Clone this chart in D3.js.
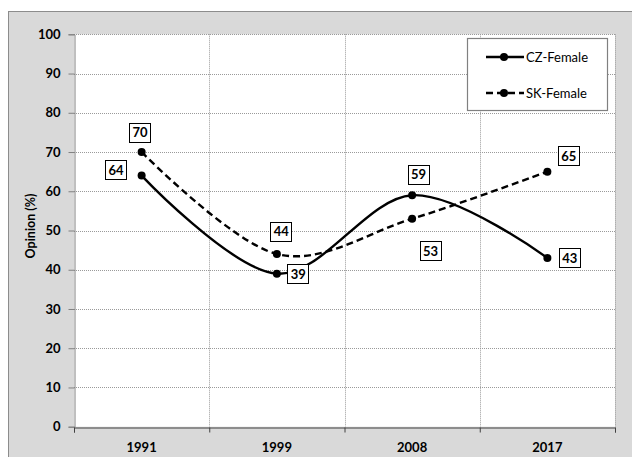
<!DOCTYPE html>
<html>
<head>
<meta charset="utf-8">
<script src="https://cdn.jsdelivr.net/npm/d3@7"></script>
<style>
  body { margin: 0; background: #fff; }
  text { font-family: Lato, "Open Sans", sans-serif; }
</style>
</head>
<body>
<div id="canvas"></div>
<script>
"use strict"

/* Chart data */
let years = ["1991", "1999", "2008", "2017"];
let czFemale = [64, 39, 59, 43];
let skFemale = [70, 44, 53, 65];
let yTicks = [0, 10, 20, 30, 40, 50, 60, 70, 80, 90, 100];
let seriesNames = ["CZ-Female", "SK-Female"];

// where each value box sits relative to its point (dx, dy)
let czLabelShift = [[-26, -6], [21, 0], [6, -21], [22, 0]];
let skLabelShift = [[-2, -20], [4, -23], [18, 32], [21, -16]];

let svgWidth = 632;
let svgHeight = 457;

let svg = d3.select("#canvas")
    .append("svg")
    .attr("width", svgWidth)
    .attr("height", svgHeight);

// outer grey chart area
svg.append("rect")
    .attr("x", 8.5)
    .attr("y", 11.5)
    .attr("width", svgWidth - 8)
    .attr("height", svgHeight - 11)
    .attr("fill", "#d9d9d9")
    .attr("stroke", "#8c8c8c");

let xScale = d3.scaleBand()
    .domain(years)
    .range([74, 615]);

let yScale = d3.scaleLinear()
    .domain([0, 100])
    .range([426.7, 34.3]);

// plot background
svg.append("rect")
    .attr("x", 74)
    .attr("y", yScale(100))
    .attr("width", 615 - 74)
    .attr("height", yScale(0) - yScale(100))
    .attr("fill", "white");

// horizontal grid
svg.selectAll("line.hgrid")
    .data(yTicks.slice(1))
    .join("line")
    .classed("hgrid", true)
    .attr("x1", 74)
    .attr("x2", 615)
    .attr("y1", function(d) { return Math.round(yScale(d)) + 0.5; })
    .attr("y2", function(d) { return Math.round(yScale(d)) + 0.5; })
    .attr("stroke", "#9a9a9a")
    .attr("stroke-dasharray", "1,1");

// vertical grid at category boundaries
let boundaries = years.slice(1).map(function(y) { return xScale(y); });
boundaries.push(615);
svg.selectAll("line.vgrid")
    .data(boundaries)
    .join("line")
    .classed("vgrid", true)
    .attr("x1", function(d) { return Math.round(d) + 0.5; })
    .attr("x2", function(d) { return Math.round(d) + 0.5; })
    .attr("y1", yScale(100))
    .attr("y2", yScale(0))
    .attr("stroke", "#9a9a9a")
    .attr("stroke-dasharray", "1,1");

// y axis
let yAxis = d3.axisLeft(yScale)
    .tickValues(yTicks)
    .tickSize(6)
    .tickPadding(8);

let yG = svg.append("g")
    .attr("transform", "translate(74.5,0)")
    .call(yAxis);
yG.select(".domain").attr("stroke", "#808080");
yG.selectAll(".tick line").attr("stroke", "#808080");
yG.selectAll("text")
    .attr("font-size", 13)
    .attr("font-weight", "bold")
    .attr("font-family", "Lato, sans-serif")
    .attr("fill", "#000");

// x axis: ticks at category boundaries
let xAxisScale = d3.scaleLinear().domain([0, 4]).range([74, 615]);
let xG = svg.append("g")
    .attr("transform", "translate(0," + (Math.round(yScale(0)) + 0.5) + ")")
    .call(d3.axisBottom(xAxisScale).tickValues([0, 1, 2, 3, 4]).tickSize(5).tickFormat(""));
xG.select(".domain").attr("stroke", "#404040");
xG.selectAll(".tick line").attr("stroke", "#404040");

svg.selectAll("text.xlab")
    .data(years)
    .join("text")
    .classed("xlab", true)
    .attr("x", function(d) { return xScale(d) + xScale.bandwidth() / 2; })
    .attr("y", 452)
    .attr("text-anchor", "middle")
    .attr("font-size", 13)
    .attr("font-weight", "bold")
    .text(function(d) { return d; });

// y axis title
svg.append("text")
    .attr("transform", "translate(35," + 226 + ") rotate(-90)")
    .attr("text-anchor", "middle")
    .attr("font-size", 12.5)
    .attr("font-weight", "bold")
    .text("Opinion (%)");

function px(i) {
    return xScale(years[i]) + xScale.bandwidth() / 2;
}

let lineGen = d3.line()
    .x(function(d, i) { return px(i); })
    .y(function(d) { return yScale(d); })
    .curve(d3.curveCatmullRom.alpha(0));

let series = [
    { name: seriesNames[0], values: czFemale, dash: null, shift: czLabelShift },
    { name: seriesNames[1], values: skFemale, dash: "7,4", shift: skLabelShift }
];

for (let s = 0; s < series.length; s++) {
    let ser = series[s];
    svg.append("path")
        .datum(ser.values)
        .attr("d", lineGen)
        .attr("fill", "none")
        .attr("stroke", "#000")
        .attr("stroke-width", 2.4)
        .attr("stroke-dasharray", ser.dash);

    svg.selectAll("circle.pt" + s)
        .data(ser.values)
        .join("circle")
        .attr("class", "pt" + s)
        .attr("cx", function(d, i) { return px(i); })
        .attr("cy", function(d) { return yScale(d); })
        .attr("r", 4)
        .attr("fill", "#000");
}

// value boxes
for (let s = 0; s < series.length; s++) {
    let ser = series[s];
    for (let i = 0; i < ser.values.length; i++) {
        let cx = px(i) + ser.shift[i][0];
        let cy = yScale(ser.values[i]) + ser.shift[i][1];
        svg.append("rect")
            .attr("x", Math.round(cx - 10.5) + 0.5)
            .attr("y", Math.round(cy - 9.5) + 0.5)
            .attr("width", 21)
            .attr("height", 19)
            .attr("fill", "white")
            .attr("stroke", "#000")
            .attr("stroke-width", 1);
        svg.append("text")
            .attr("x", cx + 0.5)
            .attr("y", cy + 5)
            .attr("text-anchor", "middle")
            .attr("font-size", 13)
            .attr("font-weight", "bold")
            .text(ser.values[i]);
    }
}

// legend
svg.append("rect")
    .attr("x", 467.5)
    .attr("y", 38.5)
    .attr("width", 140)
    .attr("height", 72)
    .attr("fill", "white")
    .attr("stroke", "#808080")
    .attr("stroke-width", 1.2);

let legendY = [57, 93];
for (let s = 0; s < series.length; s++) {
    svg.append("line")
        .attr("x1", 486)
        .attr("x2", 524)
        .attr("y1", legendY[s])
        .attr("y2", legendY[s])
        .attr("stroke", "#000")
        .attr("stroke-width", 2.4)
        .attr("stroke-dasharray", series[s].dash);
    svg.append("circle")
        .attr("cx", 504)
        .attr("cy", legendY[s])
        .attr("r", 4)
        .attr("fill", "#000");
    svg.append("text")
        .attr("x", 526)
        .attr("y", legendY[s] + 4.5)
        .attr("font-size", 13)
        .text(series[s].name);
}
</script>
</body>
</html>
